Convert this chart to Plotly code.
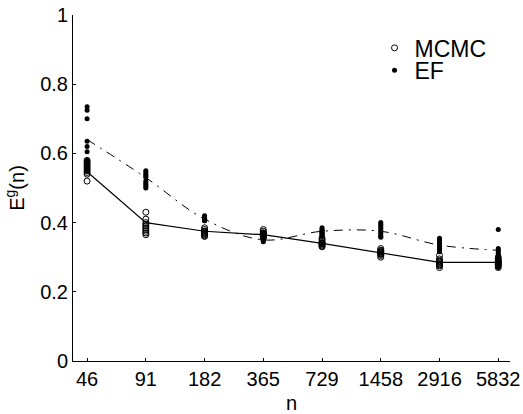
import plotly.graph_objects as go

n_labels = ["46", "91", "182", "365", "729", "1458", "2916", "5832"]

mcmc_runs = {
    "46":   [0.52, 0.54, 0.545, 0.55, 0.555, 0.56, 0.565, 0.57, 0.575, 0.58],
    "91":   [0.43, 0.41, 0.40, 0.395, 0.39, 0.385, 0.38, 0.375, 0.37, 0.365],
    "182":  [0.385, 0.38, 0.375, 0.372, 0.37, 0.368, 0.365, 0.362, 0.36, 0.375],
    "365":  [0.38, 0.375, 0.37, 0.368, 0.365, 0.362, 0.36, 0.358, 0.355, 0.37],
    "729":  [0.355, 0.35, 0.345, 0.342, 0.34, 0.338, 0.335, 0.332, 0.33, 0.34],
    "1458": [0.325, 0.32, 0.318, 0.315, 0.312, 0.31, 0.308, 0.305, 0.30, 0.315],
    "2916": [0.305, 0.295, 0.29, 0.288, 0.285, 0.282, 0.28, 0.278, 0.275, 0.27],
    "5832": [0.30, 0.295, 0.29, 0.288, 0.285, 0.283, 0.28, 0.278, 0.275, 0.27],
}

ef_runs = {
    "46":   [0.735, 0.725, 0.70, 0.635, 0.62, 0.605, 0.58, 0.57, 0.56, 0.55],
    "91":   [0.55, 0.545, 0.54, 0.535, 0.53, 0.52, 0.515, 0.51, 0.505, 0.50],
    "182":  [0.42, 0.415, 0.412, 0.41, 0.408, 0.405, 0.41, 0.415, 0.41, 0.405],
    "365":  [0.37, 0.365, 0.36, 0.355, 0.35, 0.348, 0.345, 0.352, 0.358, 0.35],
    "729":  [0.385, 0.38, 0.378, 0.375, 0.372, 0.37, 0.368, 0.365, 0.362, 0.36],
    "1458": [0.40, 0.395, 0.39, 0.385, 0.38, 0.375, 0.37, 0.365, 0.36, 0.358],
    "2916": [0.355, 0.35, 0.345, 0.34, 0.335, 0.33, 0.328, 0.325, 0.32, 0.316],
    "5832": [0.38, 0.325, 0.32, 0.315, 0.31, 0.305, 0.30, 0.29, 0.28, 0.27],
}

mcmc_mean = [0.547, 0.40, 0.375, 0.365, 0.34, 0.313, 0.285, 0.285]
ef_mean = [0.64, 0.53, 0.41, 0.35, 0.375, 0.375, 0.335, 0.32]

idx = list(range(len(n_labels)))

def flatten(runs):
    xs, ys = [], []
    for i, lab in enumerate(n_labels):
        for v in runs[lab]:
            xs.append(i)
            ys.append(v)
    return xs, ys

fig = go.Figure()

fig.add_trace(go.Scatter(x=idx, y=mcmc_mean, mode="lines",
                         line=dict(color="black", width=1.2), showlegend=False))
fig.add_trace(go.Scatter(x=idx, y=ef_mean, mode="lines",
                         line=dict(color="black", width=1, dash="9px,6px,2px,6px", shape="spline"),
                         showlegend=False))

mx, my = flatten(mcmc_runs)
ex, ey = flatten(ef_runs)
fig.add_trace(go.Scatter(x=mx, y=my, mode="markers", name="MCMC", legend="legend",
                         marker=dict(symbol="circle-open", size=6, color="black",
                                     line=dict(width=1, color="black"))))
fig.add_trace(go.Scatter(x=ex, y=ey, mode="markers", name="EF", legend="legend2",
                         marker=dict(symbol="circle", size=5, color="black")))

font = "Liberation Sans, Arial, sans-serif"
leg_common = dict(xanchor="left", yanchor="middle", font=dict(size=23),
                  bgcolor="rgba(0,0,0,0)", itemwidth=30)
fig.update_layout(
    width=523, height=414,
    margin=dict(l=73, r=13, t=15, b=53),
    paper_bgcolor="white", plot_bgcolor="white",
    font=dict(family=font, size=20, color="black"),
    legend=dict(x=0.69, y=0.905, **leg_common),
    legend2=dict(x=0.69, y=0.84, **leg_common),
    xaxis=dict(
        tickmode="array", tickvals=idx, ticktext=n_labels,
        range=[-0.24, 7.2], showgrid=False, zeroline=False,
        showline=True, linecolor="black", linewidth=1,
        ticks="inside", ticklen=3, tickcolor="black", automargin=False,
        title=dict(text="n", standoff=8, font=dict(size=20)),
        tickfont=dict(size=20),
    ),
    yaxis=dict(
        range=[0, 1], tickvals=[0, 0.2, 0.4, 0.6, 0.8, 1],
        ticktext=["0", "0.2", "0.4", "0.6", "0.8", "1"],
        showgrid=False, zeroline=False,
        showline=True, linecolor="black", linewidth=1,
        ticks="inside", ticklen=3, tickcolor="black", automargin=False,
        title=dict(text="E<sup>g</sup>(n)", standoff=10, font=dict(size=20)),
        tickfont=dict(size=20),
    ),
)

fig.write_html("out.html")
